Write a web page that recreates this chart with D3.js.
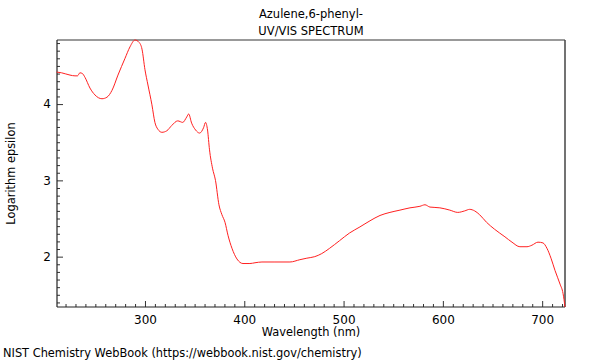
<!DOCTYPE html>
<html><head><meta charset="utf-8">
<script src="https://cdn.jsdelivr.net/npm/d3@7"></script>
<style>body{margin:0;background:#fff}svg{display:block}text{font-family:"DejaVu Sans",sans-serif}</style>
</head><body>
<svg id="c" width="600" height="360"></svg>
<script>
const titleLines = ["Azulene,6-phenyl-", "UV/VIS SPECTRUM"];
const xLabel = "Wavelength (nm)";
const yLabel = "Logarithm epsilon";
const footer = "NIST Chemistry WebBook (https://webbook.nist.gov/chemistry)";
const xTicks = [300, 400, 500, 600, 700];
const yTicks = [2, 3, 4];
const wavelength = [211,216,224.5,229.5,232,234.5,237,239.6,244.6,249.6,256.7,261.7,266.8,272.8,279.9,284.9,290,294,297,300,303,307,310,313,317,322,327,333,338,342,344,347,351,355,359,361,363,365,368,371,374.5,377.5,380.6,383.6,387.6,392.6,398.7,405.7,410.8,417.8,430,446,456,463,471,478,486,496,506,516.5,526.6,536.7,546.7,556.8,566.9,576.9,582,587,597,607,615,622,627,632,637,644,652,662.5,669.6,677.6,684.7,689.7,695.8,700.8,704.8,708.9,712.9,718,721,723];
const logEps = [4.42,4.41,4.38,4.37,4.37,4.41,4.40,4.35,4.21,4.12,4.07,4.09,4.18,4.38,4.60,4.75,4.84,4.81,4.72,4.45,4.25,3.99,3.76,3.67,3.63,3.65,3.72,3.78,3.76,3.83,3.87,3.75,3.66,3.62,3.69,3.76,3.66,3.40,3.16,3.00,2.68,2.55,2.45,2.28,2.11,1.97,1.91,1.91,1.92,1.93,1.93,1.93,1.96,1.98,2.00,2.04,2.11,2.21,2.31,2.39,2.47,2.54,2.58,2.61,2.64,2.66,2.68,2.65,2.64,2.61,2.58,2.60,2.62,2.60,2.55,2.45,2.36,2.26,2.19,2.13,2.13,2.15,2.19,2.18,2.11,1.98,1.82,1.64,1.52,1.34];

const svg = d3.select("#c");
const L = 57, R = 565, T = 40, B = 307;
const FS = 11.4;
const x = d3.scaleLinear().domain([211.4, 723]).range([L, R]);
const y = d3.scaleLinear().domain([1.34, 4.84]).range([B, T]);

// minor ticks
const xMinor = d3.range(220, 721, 10).filter(v => v % 100 !== 0);
const yMinor = d3.range(14, 49, 1).map(v => v / 10).filter(v => Math.abs(v - Math.round(v)) > 1e-6);

svg.append("g").attr("transform", `translate(0,${B})`)
  .call(d3.axisTop(x).tickValues(xMinor).tickSize(3).tickFormat(""))
  .call(g => g.select(".domain").remove())
  .selectAll("line").attr("stroke", "#333");
svg.append("g").attr("transform", `translate(${L},0)`)
  .call(d3.axisRight(y).tickValues(yMinor).tickSize(3).tickFormat(""))
  .call(g => g.select(".domain").remove())
  .selectAll("line").attr("stroke", "#333");

// major ticks
const gx = svg.append("g").attr("transform", `translate(0,${B})`)
  .call(d3.axisBottom(x).tickValues(xTicks).tickSize(0).tickPadding(8).tickFormat(d3.format("d")));
gx.select(".domain").remove();
gx.selectAll("text").attr("font-size", 12).attr("fill", "#000").attr("font-family", "DejaVu Sans");
svg.append("g").attr("transform", `translate(0,${B})`)
  .call(d3.axisTop(x).tickValues(xTicks).tickSize(6).tickFormat(""))
  .call(g => g.select(".domain").remove())
  .selectAll("line").attr("stroke", "#333");

const gy = svg.append("g").attr("transform", `translate(${L},0)`)
  .call(d3.axisLeft(y).tickValues(yTicks).tickSize(0).tickPadding(6).tickFormat(d3.format("d")));
gy.select(".domain").remove();
gy.selectAll("text").attr("font-size", 12).attr("fill", "#000").attr("font-family", "DejaVu Sans");
svg.append("g").attr("transform", `translate(${L},0)`)
  .call(d3.axisRight(y).tickValues(yTicks).tickSize(6).tickFormat(""))
  .call(g => g.select(".domain").remove())
  .selectAll("line").attr("stroke", "#333");

// frame
svg.append("line").attr("x1", L).attr("x2", R).attr("y1", T).attr("y2", T).attr("stroke", "#999").attr("stroke-width", 2);
svg.append("line").attr("x1", R).attr("x2", R).attr("y1", T).attr("y2", B).attr("stroke", "#444").attr("stroke-width", 1.5);
svg.append("line").attr("x1", L).attr("x2", R).attr("y1", B).attr("y2", B).attr("stroke", "#222").attr("stroke-width", 1.2);
svg.append("line").attr("x1", L).attr("x2", L).attr("y1", T).attr("y2", B).attr("stroke", "#222").attr("stroke-width", 1.2);

// curve
const pts = wavelength.map((w, i) => [w, logEps[i]]);
svg.append("path").datum(pts)
  .attr("fill", "none").attr("stroke", "#ff2020").attr("stroke-width", 1)
  .attr("d", d3.line().x(d => x(d[0])).y(d => y(d[1])).curve(d3.curveMonotoneX));

// texts
svg.selectAll(".title").data(titleLines).join("text")
  .attr("x", (L + R) / 2).attr("y", (d, i) => 18 + i * 17)
  .attr("text-anchor", "middle").attr("font-size", 11.5).text(d => d);
svg.append("text").attr("x", (L + R) / 2).attr("y", 336).attr("text-anchor", "middle").attr("font-size", FS).text(xLabel);
svg.append("text").attr("transform", `translate(15,${(T + B) / 2}) rotate(-90)`).attr("text-anchor", "middle").attr("font-size", FS).text(yLabel);
svg.append("text").attr("x", 3).attr("y", 357).attr("font-size", FS).text(footer);
</script>
</body></html>
